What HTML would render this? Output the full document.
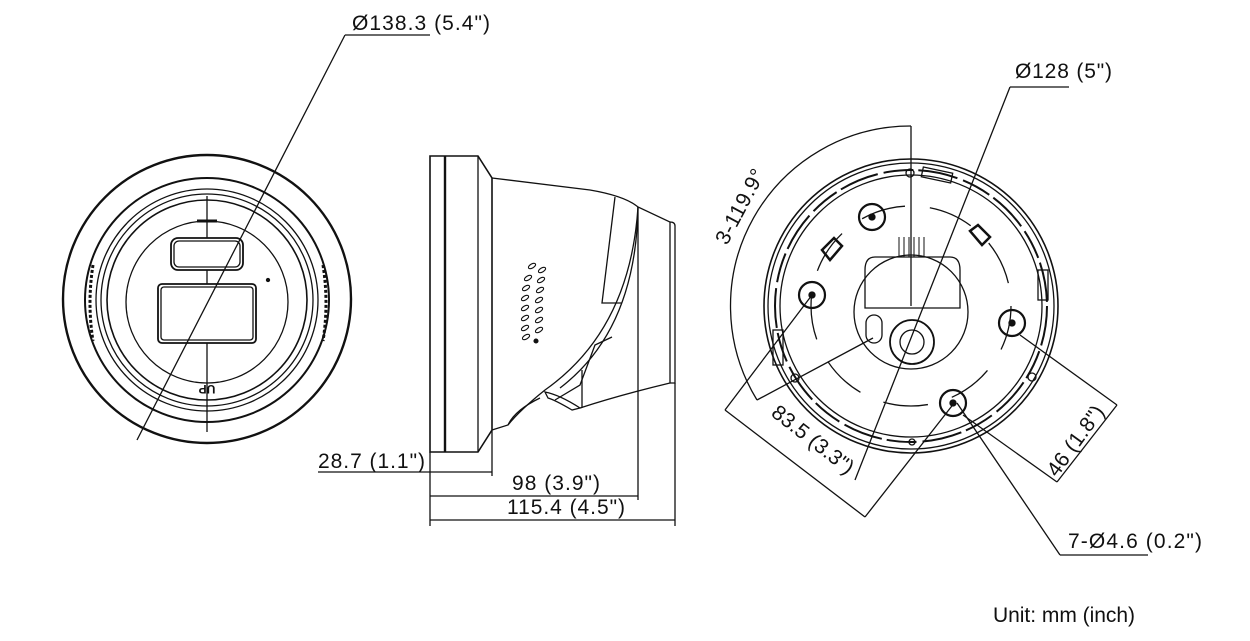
<!DOCTYPE html>
<html><head><meta charset="utf-8"><style>
html,body{margin:0;padding:0;background:#fff;}
svg{display:block}
text{font-family:"Liberation Sans",sans-serif;fill:#111;stroke:none;font-size:21px}
</style></head><body>
<svg width="1250" height="641" viewBox="0 0 1250 641" xmlns="http://www.w3.org/2000/svg" fill="none" stroke="#111" stroke-width="1.3">
<!-- LEFT VIEW -->
<circle cx="207" cy="299" r="144" stroke-width="2.4"/>
<circle cx="207" cy="300" r="122" stroke-width="2"/>
<circle cx="207" cy="300" r="111"/>
<circle cx="207" cy="300" r="106"/>
<circle cx="207" cy="300" r="100" stroke-width="1.6"/>
<circle cx="207" cy="302" r="81"/>
<line x1="207" y1="196" x2="207" y2="432"/>
<rect x="171" y="238" width="72" height="32" rx="7" fill="#fff" stroke-width="1.8"/>
<rect x="174" y="241" width="66" height="26" rx="5"/>
<rect x="158" y="284" width="98" height="59" rx="4" fill="#fff" stroke-width="1.8"/>
<rect x="161" y="287" width="92" height="53" rx="3"/>
<circle cx="268" cy="280" r="1.5" fill="#111"/>
<path d="M197 221 h20" stroke-width="3"/>
<text x="207" y="393" style="font-size:12px;font-weight:bold" text-anchor="middle" transform="rotate(180 207 389)">UP</text>
<path d="M93 265 q-6 38 0 76" stroke-width="3" stroke-dasharray="3 2"/>
<path d="M323 265 q6 38 0 76" stroke-width="3" stroke-dasharray="3 2"/>
<line x1="345" y1="35" x2="137" y2="440"/>
<line x1="345" y1="35" x2="430" y2="35"/>
<text x="352" y="30" textLength="138">Ø138.3 (5.4")</text>

<!-- SIDE VIEW -->
<path d="M430 156 H478 L492 178 V430 L478 452 H430 Z" stroke-width="1.6"/>
<line x1="445" y1="156" x2="445" y2="452" stroke-width="2.4"/>
<line x1="478" y1="156" x2="478" y2="452"/>
<path d="M492 178 L590 190 Q625 196 638 207 L670 222 V383 Q620 395 580 408"/>
<path d="M670 222 Q675 222 675 226 V383 L670 383"/>
<path d="M638 207 Q630 330 545 390 Q520 410 508 425 L492 430"/>
<path d="M638 207 Q636 330 560 388" />
<path d="M615 197 L602 303 H622"/>
<path d="M612 337 L595 345 L580 385 L555 400"/>
<path d="M582 370 V408"/>
<path d="M545 392 Q560 395 580 408 L572 410 Q555 400 548 398 Z"/>
<path d="M508 425 Q515 410 540 398"/>
<line x1="638" y1="207" x2="638" y2="500"/>
<g stroke-width="1.1">
<ellipse cx="532" cy="266" rx="4" ry="2" transform="rotate(-30 532 266)"/>
<ellipse cx="542" cy="270" rx="4" ry="2" transform="rotate(-30 542 270)"/>
<ellipse cx="528" cy="278" rx="4" ry="2" transform="rotate(-30 528 278)"/>
<ellipse cx="541" cy="280" rx="4" ry="2" transform="rotate(-30 541 280)"/>
<ellipse cx="526" cy="288" rx="4" ry="2" transform="rotate(-30 526 288)"/>
<ellipse cx="540" cy="290" rx="4" ry="2" transform="rotate(-30 540 290)"/>
<ellipse cx="525" cy="298" rx="4" ry="2" transform="rotate(-30 525 298)"/>
<ellipse cx="539" cy="300" rx="4" ry="2" transform="rotate(-30 539 300)"/>
<ellipse cx="525" cy="308" rx="4" ry="2" transform="rotate(-30 525 308)"/>
<ellipse cx="539" cy="310" rx="4" ry="2" transform="rotate(-30 539 310)"/>
<ellipse cx="525" cy="318" rx="4" ry="2" transform="rotate(-30 525 318)"/>
<ellipse cx="539" cy="320" rx="4" ry="2" transform="rotate(-30 539 320)"/>
<ellipse cx="525" cy="328" rx="4" ry="2" transform="rotate(-30 525 328)"/>
<ellipse cx="539" cy="330" rx="4" ry="2" transform="rotate(-30 539 330)"/>
<ellipse cx="526" cy="337" rx="4" ry="2" transform="rotate(-30 526 337)"/>
<circle cx="536" cy="341" r="2" fill="#111"/>
</g>
<line x1="430" y1="452" x2="430" y2="526"/>
<line x1="492" y1="430" x2="492" y2="476"/>
<line x1="675" y1="383" x2="675" y2="526"/>
<line x1="318" y1="472" x2="492" y2="472"/>
<line x1="430" y1="496" x2="638" y2="496"/>
<line x1="430" y1="520" x2="675" y2="520"/>
<text x="318" y="468" textLength="107">28.7 (1.1")</text>
<text x="512" y="490" textLength="88">98 (3.9")</text>
<text x="507" y="514" textLength="118">115.4 (4.5")</text>

<!-- BOTTOM VIEW -->
<circle cx="911" cy="306" r="147" stroke-width="1.6"/>
<circle cx="911" cy="306" r="143"/>
<circle cx="911" cy="306" r="136" stroke-width="2" stroke-dasharray="40 6 30 5"/>
<circle cx="911" cy="306" r="131"/>
<circle cx="911" cy="306" r="100" stroke-dasharray="45 25"/>
<circle cx="911" cy="312" r="57"/>
<path d="M865 270 Q865 257 875 257 H950 Q960 257 960 270 V308 H865 Z"/>
<g stroke-width="1"><path d="M899 257 v-20 m5 0 v20 m5 0 v-20 m5 0 v20 m5 0 v-20 m5 0 v20"/></g>
<circle cx="912" cy="342" r="22" stroke-width="1.8"/>
<circle cx="912" cy="342" r="12"/>
<rect x="866" y="315" width="16" height="28" rx="8"/>
<g stroke-width="2.2">
<circle cx="872" cy="217" r="13"/><circle cx="812" cy="295" r="13"/>
<circle cx="1012" cy="323" r="13"/><circle cx="953" cy="403" r="13"/>
</g>
<g fill="#111"><circle cx="872" cy="217" r="3"/><circle cx="812" cy="295" r="3"/><circle cx="1012" cy="323" r="3"/><circle cx="953" cy="403" r="3"/></g>
<g><circle cx="910" cy="173" r="4"/><circle cx="795" cy="378" r="4"/><circle cx="1032" cy="377" r="4"/><circle cx="912" cy="442" r="3"/></g>
<path d="M822 250 l12 -12 l8 8 l-12 14 z" stroke-width="2.5"/>
<path d="M978 225 l12 12 l-8 8 l-12 -14 z" stroke-width="2.5"/>
<rect x="922" y="170" width="30" height="10" transform="rotate(12 937 175)"/>
<rect x="773" y="330" width="10" height="35"/>
<rect x="1038" y="270" width="10" height="30"/>
<!-- leaders -->
<line x1="911" y1="126" x2="911" y2="306"/>
<path d="M911 126 A180 180 0 0 0 757 400"/>
<line x1="757" y1="400" x2="873" y2="338"/>
<line x1="1010" y1="87" x2="855" y2="480"/>
<line x1="1010" y1="87" x2="1069" y2="87"/>
<text x="1015" y="78" textLength="97">Ø128 (5")</text>
<line x1="725" y1="410" x2="865" y2="517"/>
<line x1="725" y1="410" x2="812" y2="295"/>
<line x1="865" y1="517" x2="955" y2="402"/>
<line x1="1117" y1="405" x2="1057" y2="482"/>
<line x1="1117" y1="405" x2="1020" y2="335"/>
<line x1="1057" y1="482" x2="963" y2="415"/>
<line x1="957" y1="403" x2="1060" y2="555"/>
<line x1="1060" y1="555" x2="1148" y2="555"/>
<text x="1068" y="548" textLength="134">7-Ø4.6 (0.2")</text>
<text x="0" y="0" transform="translate(727 246) rotate(-62)" textLength="82">3-119.9°</text>
<text x="0" y="0" transform="translate(770 415) rotate(38)" textLength="98">83.5 (3.3")</text>
<text x="0" y="0" transform="translate(1057 478) rotate(-54)" textLength="82">46 (1.8")</text>
<text x="993" y="622" textLength="142">Unit: mm (inch)</text>
</svg>
</body></html>
